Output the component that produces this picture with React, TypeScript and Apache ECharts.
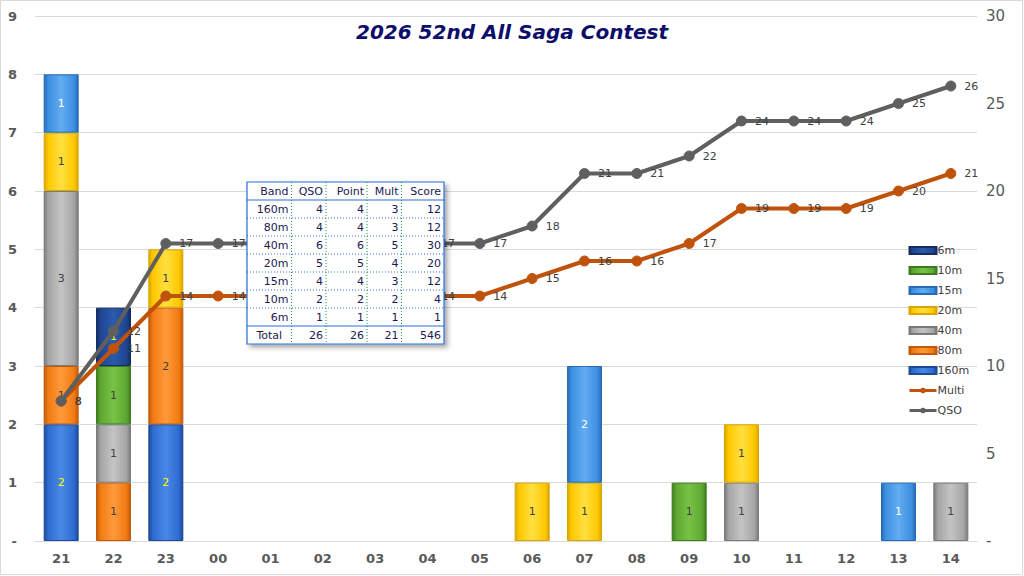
import React, { useEffect, useRef } from "react";
import * as echarts from "echarts";

const hours = ["21", "22", "23", "00", "01", "02", "03", "04", "05", "06", "07", "08", "09", "10", "11", "12", "13", "14"];

// QSOs per hour per band
const band160 = [2, 0, 2, 0, 0, 0, 0, 0, 0, 0, 0, 0, 0, 0, 0, 0, 0, 0];
const band80 = [1, 1, 2, 0, 0, 0, 0, 0, 0, 0, 0, 0, 0, 0, 0, 0, 0, 0];
const band40 = [3, 1, 0, 0, 0, 0, 0, 0, 0, 0, 0, 0, 0, 1, 0, 0, 0, 1];
const band20 = [1, 0, 1, 0, 0, 0, 0, 0, 0, 1, 1, 0, 0, 1, 0, 0, 0, 0];
const band15 = [1, 0, 0, 0, 0, 0, 0, 0, 0, 0, 2, 0, 0, 0, 0, 0, 1, 0];
const band10 = [0, 1, 0, 0, 0, 0, 0, 0, 0, 0, 0, 0, 1, 0, 0, 0, 0, 0];
const band6 = [0, 1, 0, 0, 0, 0, 0, 0, 0, 0, 0, 0, 0, 0, 0, 0, 0, 0];

// cumulative
const multi = [8, 11, 14, 14, 14, 14, 14, 14, 14, 15, 16, 16, 17, 19, 19, 19, 20, 21];
const qso = [8, 12, 17, 17, 17, 17, 17, 17, 17, 18, 21, 21, 22, 24, 24, 24, 25, 26];

// hours whose line labels sit completely behind the summary table
const hiddenLabelHours = ["01", "02", "03"];

const leftTicks = [0, 1, 2, 3, 4, 5, 6, 7, 8, 9];
const rightTicks = [0, 5, 10, 15, 20, 25, 30];

// summary table
const tableHeader = ["Band", "QSO", "Point", "Mult", "Score"];
const tableBands = ["160m", "80m", "40m", "20m", "15m", "10m", "6m"];
const tableQSO = [4, 4, 6, 5, 4, 2, 1];
const tablePoint = [4, 4, 6, 5, 4, 2, 1];
const tableMult = [3, 3, 5, 4, 3, 2, 1];
const tableScore = [12, 12, 30, 20, 12, 4, 1];
const tableTotal = ["Total", 26, 26, 21, 546];

const barDefs = [
  { name: "160m", data: band160, base: "#2e6bd0", dark: "#1d4a96", light: "#4a88e6", label: "#ffff00" },
  { name: "80m", data: band80, base: "#f27b12", dark: "#c25a0c", light: "#ff9a3a", label: "#404040" },
  { name: "40m", data: band40, base: "#a5a5a5", dark: "#7a7a7a", light: "#c4c4c4", label: "#404040" },
  { name: "20m", data: band20, base: "#ffc800", dark: "#d9a600", light: "#ffe040", label: "#404040" },
  { name: "15m", data: band15, base: "#3d8fe0", dark: "#256cb5", light: "#62acf2", label: "#ffffff" },
  { name: "10m", data: band10, base: "#5ea832", dark: "#3e7c1e", light: "#78c246", label: "#404040" },
  { name: "6m", data: band6, base: "#1f4590", dark: "#132d63", light: "#2b5aae", label: "#ffff00" },
];

function buildTable(): any[] {
  const x0 = 247;
  const y0 = 182;
  const rowH = 18;
  const colEdges = [0, 44.5, 79, 120, 154.5, 197];
  const nRows = tableBands.length + 2;
  const w = colEdges[colEdges.length - 1];
  const h = rowH * nRows;
  const font = '11px "DejaVu Sans"';
  const txtColor = "#1a1a50";
  const els: any[] = [];
  els.push({
    type: "rect",
    z: 100,
    shape: { x: x0, y: y0, width: w, height: h },
    style: { fill: "#ffffff", stroke: "#2a6fdb", lineWidth: 1.2, shadowBlur: 5, shadowOffsetX: 3, shadowOffsetY: 3, shadowColor: "rgba(0,0,0,0.35)" },
  });
  for (let r = 1; r < nRows; r++) {
    const solid = r === 1 || r === nRows - 1;
    els.push({
      type: "line",
      z: 101,
      shape: { x1: x0, y1: y0 + r * rowH, x2: x0 + w, y2: y0 + r * rowH },
      style: { stroke: "#2a6fdb", lineWidth: solid ? 1.2 : 1, lineDash: solid ? null : [1, 2] },
    });
  }
  for (let c = 1; c < colEdges.length - 1; c++) {
    els.push({
      type: "line",
      z: 101,
      shape: { x1: x0 + colEdges[c], y1: y0, x2: x0 + colEdges[c], y2: y0 + h },
      style: { stroke: "#1a9a4a", lineWidth: 1, lineDash: [1, 2] },
    });
  }
  const rows: any[][] = [tableHeader];
  tableBands.forEach((b, i) => rows.push([b, tableQSO[i], tablePoint[i], tableMult[i], tableScore[i]]));
  rows.push(tableTotal);
  rows.forEach((row, r) => {
    row.forEach((cell, c) => {
      const isTotalLabel = r === nRows - 1 && c === 0;
      els.push({
        type: "text",
        z: 102,
        x: x0 + (isTotalLabel ? (colEdges[0] + colEdges[1]) / 2 : colEdges[c + 1] - 3),
        y: y0 + r * rowH + rowH / 2 + 0.5,
        style: {
          text: String(cell),
          font,
          fill: txtColor,
          align: isTotalLabel ? "center" : "right",
          verticalAlign: "middle",
        },
      });
    });
  });
  return els;
}

export default function App() {
  const ref = useRef<HTMLDivElement>(null);
  useEffect(() => {
    if (!ref.current) return;
    const chart = echarts.init(ref.current, null, { renderer: "svg" });
    const barSeries = barDefs.map((b) => ({
      name: b.name,
      type: "bar",
      stack: "hour",
      barWidth: 35,
      data: b.data.map((v) => (v === 0 ? null : v)),
      itemStyle: {
        color: new echarts.graphic.LinearGradient(0, 0, 1, 0, [
          { offset: 0, color: b.dark },
          { offset: 0.12, color: b.base },
          { offset: 0.5, color: b.light },
          { offset: 0.88, color: b.base },
          { offset: 1, color: b.dark },
        ]),
        borderColor: b.dark,
        borderWidth: 1,
      },
      label: {
        show: true,
        position: "inside",
        color: b.label,
        fontSize: 11,
        fontFamily: "DejaVu Sans",
      },
      z: 2,
    }));
    const lineSeries = [
      { name: "Multi", data: multi, color: "#c0530c" },
      { name: "QSO", data: qso, color: "#5f5f5f" },
    ].map((l) => ({
      name: l.name,
      type: "line",
      yAxisIndex: 1,
      data: l.data.map((v, i) =>
        hiddenLabelHours.includes(hours[i]) ? { value: v, label: { show: false } } : v
      ),
      symbol: "circle",
      symbolSize: 10,
      lineStyle: { color: l.color, width: 4 },
      itemStyle: { color: l.color, borderColor: l.color },
      label: {
        show: true,
        position: "right",
        distance: 8,
        color: "#404040",
        fontSize: 11,
        fontFamily: "DejaVu Sans",
      },
      z: 5,
    }));
    chart.setOption({
      animation: false,
      backgroundColor: "#ffffff",
      title: {
        text: "2026 52nd All Saga Contest",
        left: "center",
        top: 17,
        textStyle: {
          fontSize: 20,
          fontWeight: "bold",
          fontStyle: "italic",
          fontFamily: "DejaVu Sans",
          color: "#0d0d6b",
        },
      },
      grid: { left: 35, right: 47, top: 16, bottom: 35, containLabel: false },
      legend: {
        orient: "vertical",
        left: 903,
        top: 240,
        itemWidth: 27,
        itemHeight: 7,
        itemGap: 9,
        textStyle: { fontSize: 11, color: "#404040", fontFamily: "DejaVu Sans", padding: [0, 0, 0, -4] },
        data: [
          { name: "6m", icon: "rect" },
          { name: "10m", icon: "rect" },
          { name: "15m", icon: "rect" },
          { name: "20m", icon: "rect" },
          { name: "40m", icon: "rect" },
          { name: "80m", icon: "rect" },
          { name: "160m", icon: "rect" },
          { name: "Multi", lineStyle: { width: 3 } },
          { name: "QSO", lineStyle: { width: 3 } },
        ],
      },
      xAxis: {
        type: "category",
        data: hours,
        axisLine: { lineStyle: { color: "#d9d9d9" } },
        axisTick: { show: false },
        axisLabel: { color: "#595959", fontSize: 13, fontWeight: "bold", fontFamily: "DejaVu Sans", margin: 11 },
      },
      yAxis: [
        {
          type: "value",
          min: leftTicks[0],
          max: leftTicks[leftTicks.length - 1],
          interval: 1,
          axisLine: { show: false },
          axisTick: { show: false },
          splitLine: { lineStyle: { color: "#d9d9d9" } },
          axisLabel: {
            color: "#595959",
            fontSize: 13,
            fontWeight: "bold",
            fontFamily: "DejaVu Sans",
            margin: 18,
            formatter: (v: number) => (v === 0 ? "-" : String(v)),
          },
        },
        {
          type: "value",
          min: rightTicks[0],
          max: rightTicks[rightTicks.length - 1],
          interval: 5,
          axisLine: { show: false },
          axisTick: { show: false },
          splitLine: { show: false },
          axisLabel: {
            color: "#595959",
            fontSize: 15,
            fontFamily: "DejaVu Sans",
            margin: 9,
            formatter: (v: number) => (v === 0 ? "-" : String(v)),
          },
        },
      ],
      graphic: [
        {
          type: "rect",
          silent: true,
          z: -1,
          shape: { x: 0.5, y: 0.5, width: 1022, height: 574 },
          style: { fill: "none", stroke: "#d9d9d9", lineWidth: 1 },
        },
        ...buildTable(),
      ],
      series: [...barSeries, ...lineSeries],
    });
    return () => chart.dispose();
  }, []);
  return <div ref={ref} style={{ position: "fixed", left: 0, top: 0, width: 1024, height: 576 }} />;
}
